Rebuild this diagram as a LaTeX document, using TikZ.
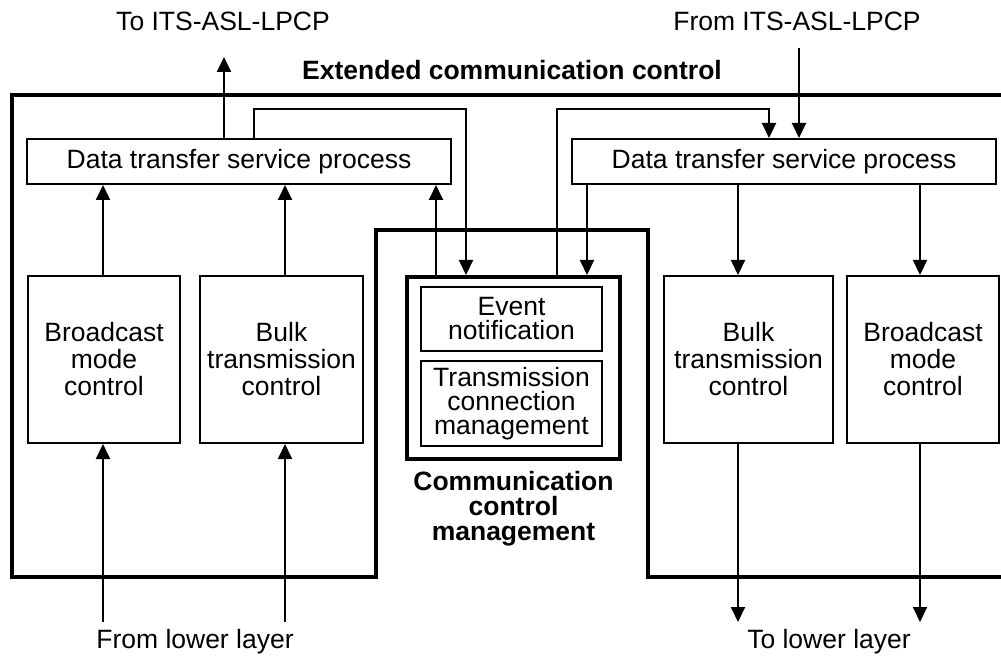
\documentclass[tikz,border=0pt]{standalone}
\usepackage{fontspec}
\setmainfont{Liberation Sans}
\usetikzlibrary{positioning,arrows.meta}

\begin{document}
\begin{tikzpicture}[x=0.5pt,y=-0.5pt,
			box/.style={rectangle, draw=black, line width=1pt, inner sep=0, align=center, font=\fontsize{13.25}{13.5}\selectfont},
			tallbox/.style={box, minimum height=83.5pt},
			smallbox/.style={box, minimum width=90.5pt, font=\fontsize{13.25}{12}\selectfont},
			plain/.style={inner sep=0, font=\fontsize{13.25}{13.5}\selectfont},
			heading/.style={inner sep=0, align=center, font=\fontsize{13.25}{12.5}\selectfont\bfseries},
			ecframe/.style={line width=1.75pt},
			arrow/.style={line width=1pt,-{Triangle[length=7.5pt,width=7pt]}}]
			
			\useasboundingbox (0,0) rectangle (1001,657);
			
			% outer frame, runs off the right edge
			\begin{scope}
				\clip (0,0) rectangle (1001,657);
				\draw[ecframe] (1010,95) -| (12,577) -| (376,230) -| (648,577) -- (1010,577);
			\end{scope}
			
			\node[box, minimum width=212pt, minimum height=22.5pt] (dtspL) at (239,161.5) {Data transfer service process};
			\node[box, minimum width=212pt, minimum height=22.5pt] (dtspR) at (784,161.5) {Data transfer service process};
			
			\node[tallbox, minimum width=76pt, anchor=north west] (bcL) at (27,275) {Broadcast\\mode\\control};
			\node[tallbox, minimum width=81.5pt, right=9pt of bcL] (bulkL) {Bulk\\transmission\\control};
			\node[tallbox, minimum width=84.5pt, anchor=north west] (bulkR) at (663,275) {Bulk\\transmission\\control};
			\node[tallbox, minimum width=76pt, right=6pt of bulkR] (bcR) {Broadcast\\mode\\control};
			
			\node[box, line width=2pt, minimum width=106.5pt, minimum height=91pt, anchor=north west] (ccm) at (405,275) {};
			\node[smallbox, minimum height=32pt, anchor=north] (evt) at (511.5,286) {Event\\notification};
			\node[smallbox, minimum height=42.5pt, below=4pt of evt] (tcm) {Transmission\\connection\\management};
			
			\node[heading, anchor=base] (ecc) at (512,80) {Extended communication control};
			\node[heading, below=5pt of ccm] (ccmLabel) {Communication\\control\\management};
			\node[plain, anchor=base] (toLabel) at (223,31) {To ITS-ASL-LPCP};
			\node[plain, anchor=base] (fromLabel) at (797,31) {From ITS-ASL-LPCP};
			\node[plain, anchor=base] (fromLow) at (195,648) {From lower layer};
			\node[plain, anchor=base] (toLow) at (829,648) {To lower layer};
			
			\coordinate (upL) at (224,57);
			\coordinate (downR) at (799,48);
			\coordinate (inBc) at (103,622);
			\coordinate (inBulk) at (285,622);
			\coordinate (outBulk) at (738,622);
			\coordinate (outBc) at (920,622);
			\coordinate (ltop) at (254,109);
			\coordinate (ldrop) at (466,109);
			\coordinate (rrise) at (557,109);
			\coordinate (rtop) at (769,109);
			\coordinate (lup) at (436,200);
			\coordinate (rdown) at (587,200);
			
			\draw[arrow] (dtspL.north -| upL) -- (upL);
			\draw[arrow] (downR) -- (dtspR.north -| downR);
			
			\draw[arrow] (inBc) -- (bcL.south -| inBc);
			\draw[arrow] (bcL.north -| inBc) -- (dtspL.south -| inBc);
			\draw[arrow] (inBulk) -- (bulkL.south -| inBulk);
			\draw[arrow] (bulkL.north -| inBulk) -- (dtspL.south -| inBulk);
			
			\draw[arrow] (dtspR.south -| outBulk) -- (bulkR.north -| outBulk);
			\draw[arrow] (bulkR.south -| outBulk) -- (outBulk);
			\draw[arrow] (dtspR.south -| outBc) -- (bcR.north -| outBc);
			\draw[arrow] (bcR.south -| outBc) -- (outBc);
			
			\draw[arrow] (dtspL.north -| ltop) -- (ltop) -- (ldrop) -- (ccm.north -| ldrop);
			\draw[arrow] (ccm.north -| lup) -- (dtspL.south -| lup);
			\draw[arrow] (ccm.north -| rrise) -- (rrise) -- (rtop) -- (dtspR.north -| rtop);
			\draw[arrow] (dtspR.south -| rdown) -- (ccm.north -| rdown);
		\end{tikzpicture}
\end{document}
